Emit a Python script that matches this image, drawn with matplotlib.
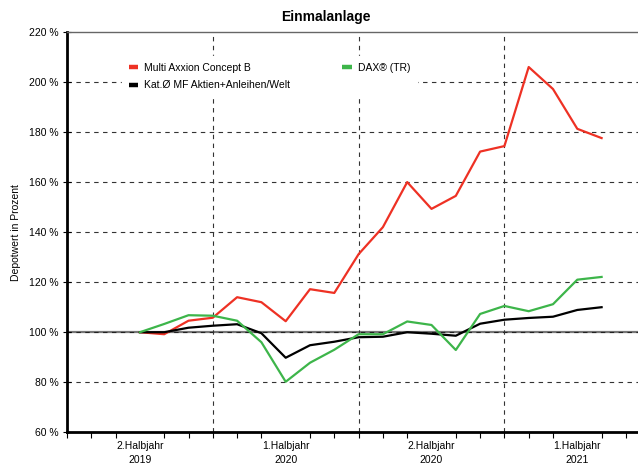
import numpy as np
import matplotlib.pyplot as plt

plt.rcParams['font.family'] = ['Liberation Sans', 'DejaVu Sans']

# monthly values (Oct 2019 - May 2021), depot value in percent
months = ['2019-10', '2019-11', '2019-12', '2020-01', '2020-02', '2020-03', '2020-04',
          '2020-05', '2020-06', '2020-07', '2020-08', '2020-09', '2020-10', '2020-11',
          '2020-12', '2021-01', '2021-02', '2021-03', '2021-04', '2021-05']
multi_axxion = [100, 99.2, 104.6, 105.8, 114, 112, 104.4, 117.2, 115.7, 131.2,
                142, 160, 149.3, 154.5, 172.2, 174.4, 206, 197.2, 181.3, 177.6]
dax = [100, 103.3, 106.8, 106.6, 104.6, 96, 80.2, 87.8, 93, 99.2,
       99.2, 104.3, 102.9, 92.9, 107.3, 110.5, 108.4, 111.2, 121, 122.1]
kat_mf = [100, 100, 101.8, 102.6, 103.2, 99.6, 89.8, 94.8, 96.2, 98,
          98.2, 100, 99.4, 98.6, 103.4, 105, 105.7, 106.2, 108.9, 110]

half_year_labels = ['2.Halbjahr\n2019', '1.Halbjahr\n2020', '2.Halbjahr\n2020', '1.Halbjahr\n2021']

# month index, 0 = July 2019
x = [(int(m[:4]) - 2019) * 12 + int(m[5:]) - 7 for m in months]

fig = plt.figure(figsize=(6.38, 4.63), dpi=100)
ax = fig.add_axes([67 / 638, 1 - 432.3 / 463, 1 - 67 / 638, 400.3 / 463])

red = '#ee3124'
green = '#3db54a'

# grid
for yv in [80, 120, 140, 160, 180, 200]:
    ax.axhline(yv, color='#333333', lw=0.8, ls=(0, (4, 4)), zorder=1)
ax.axhline(100, color='#777777', lw=1.6, zorder=1)
ax.axhline(100, color='#222222', lw=0.8, ls=(0, (4, 4)), zorder=1)
for xv in [6, 12, 18]:
    ax.axvline(xv, color='#333333', lw=0.8, ls=(0, (4, 4)), zorder=1)

ax.plot(x, multi_axxion, color=red, lw=1.6, label='Multi Axxion Concept B', zorder=3)
ax.plot(x, kat_mf, color='black', lw=1.6, label='Kat.Ø MF Aktien+Anleihen/Welt', zorder=3)
ax.plot(x, dax, color=green, lw=1.6, label='DAX® (TR)', zorder=3)

ax.set_xlim(0, 571 / 24.3)
ax.set_ylim(60, 220)

ax.set_yticks(np.arange(60, 221, 20))
ax.set_yticklabels([f'{v} %' for v in range(60, 221, 20)], fontsize=7.5)
ax.tick_params(axis='y', direction='inout', length=6, width=0.8, pad=3)

ax.set_xticks([3, 9, 15, 21])
ax.set_xticklabels(half_year_labels, fontsize=7.5, linespacing=1.5)
ax.tick_params(axis='x', which='major', length=0, pad=6)
ax.set_xticks(np.arange(0, 24), minor=True)
ax.tick_params(axis='x', which='minor', direction='out', length=4, width=0.8)

ax.spines['left'].set_linewidth(2)
ax.spines['bottom'].set_linewidth(2)
ax.spines['top'].set_color('#666666')
ax.spines['top'].set_linewidth(1)
ax.spines['right'].set_visible(False)

ax.set_ylabel('Depotwert in Prozent', fontsize=7.5, labelpad=6)

leg = ax.legend(ncol=2, loc='upper left', bbox_to_anchor=(0.088, 0.952), fontsize=7.5,
                frameon=True, fancybox=False, edgecolor='white', framealpha=1,
                handlelength=0.9, handleheight=0.4, handletextpad=0.6,
                columnspacing=5.0, labelspacing=0.75, borderpad=0.6)
for h in leg.legend_handles:
    h.set_linewidth(3.2)
    h.set_solid_capstyle('butt')

fig.text(0.511, 1 - 17 / 463, 'Einmalanlage', ha='center', va='center',
         fontsize=10, fontweight='bold')

fig.savefig('out.png', dpi=100)
